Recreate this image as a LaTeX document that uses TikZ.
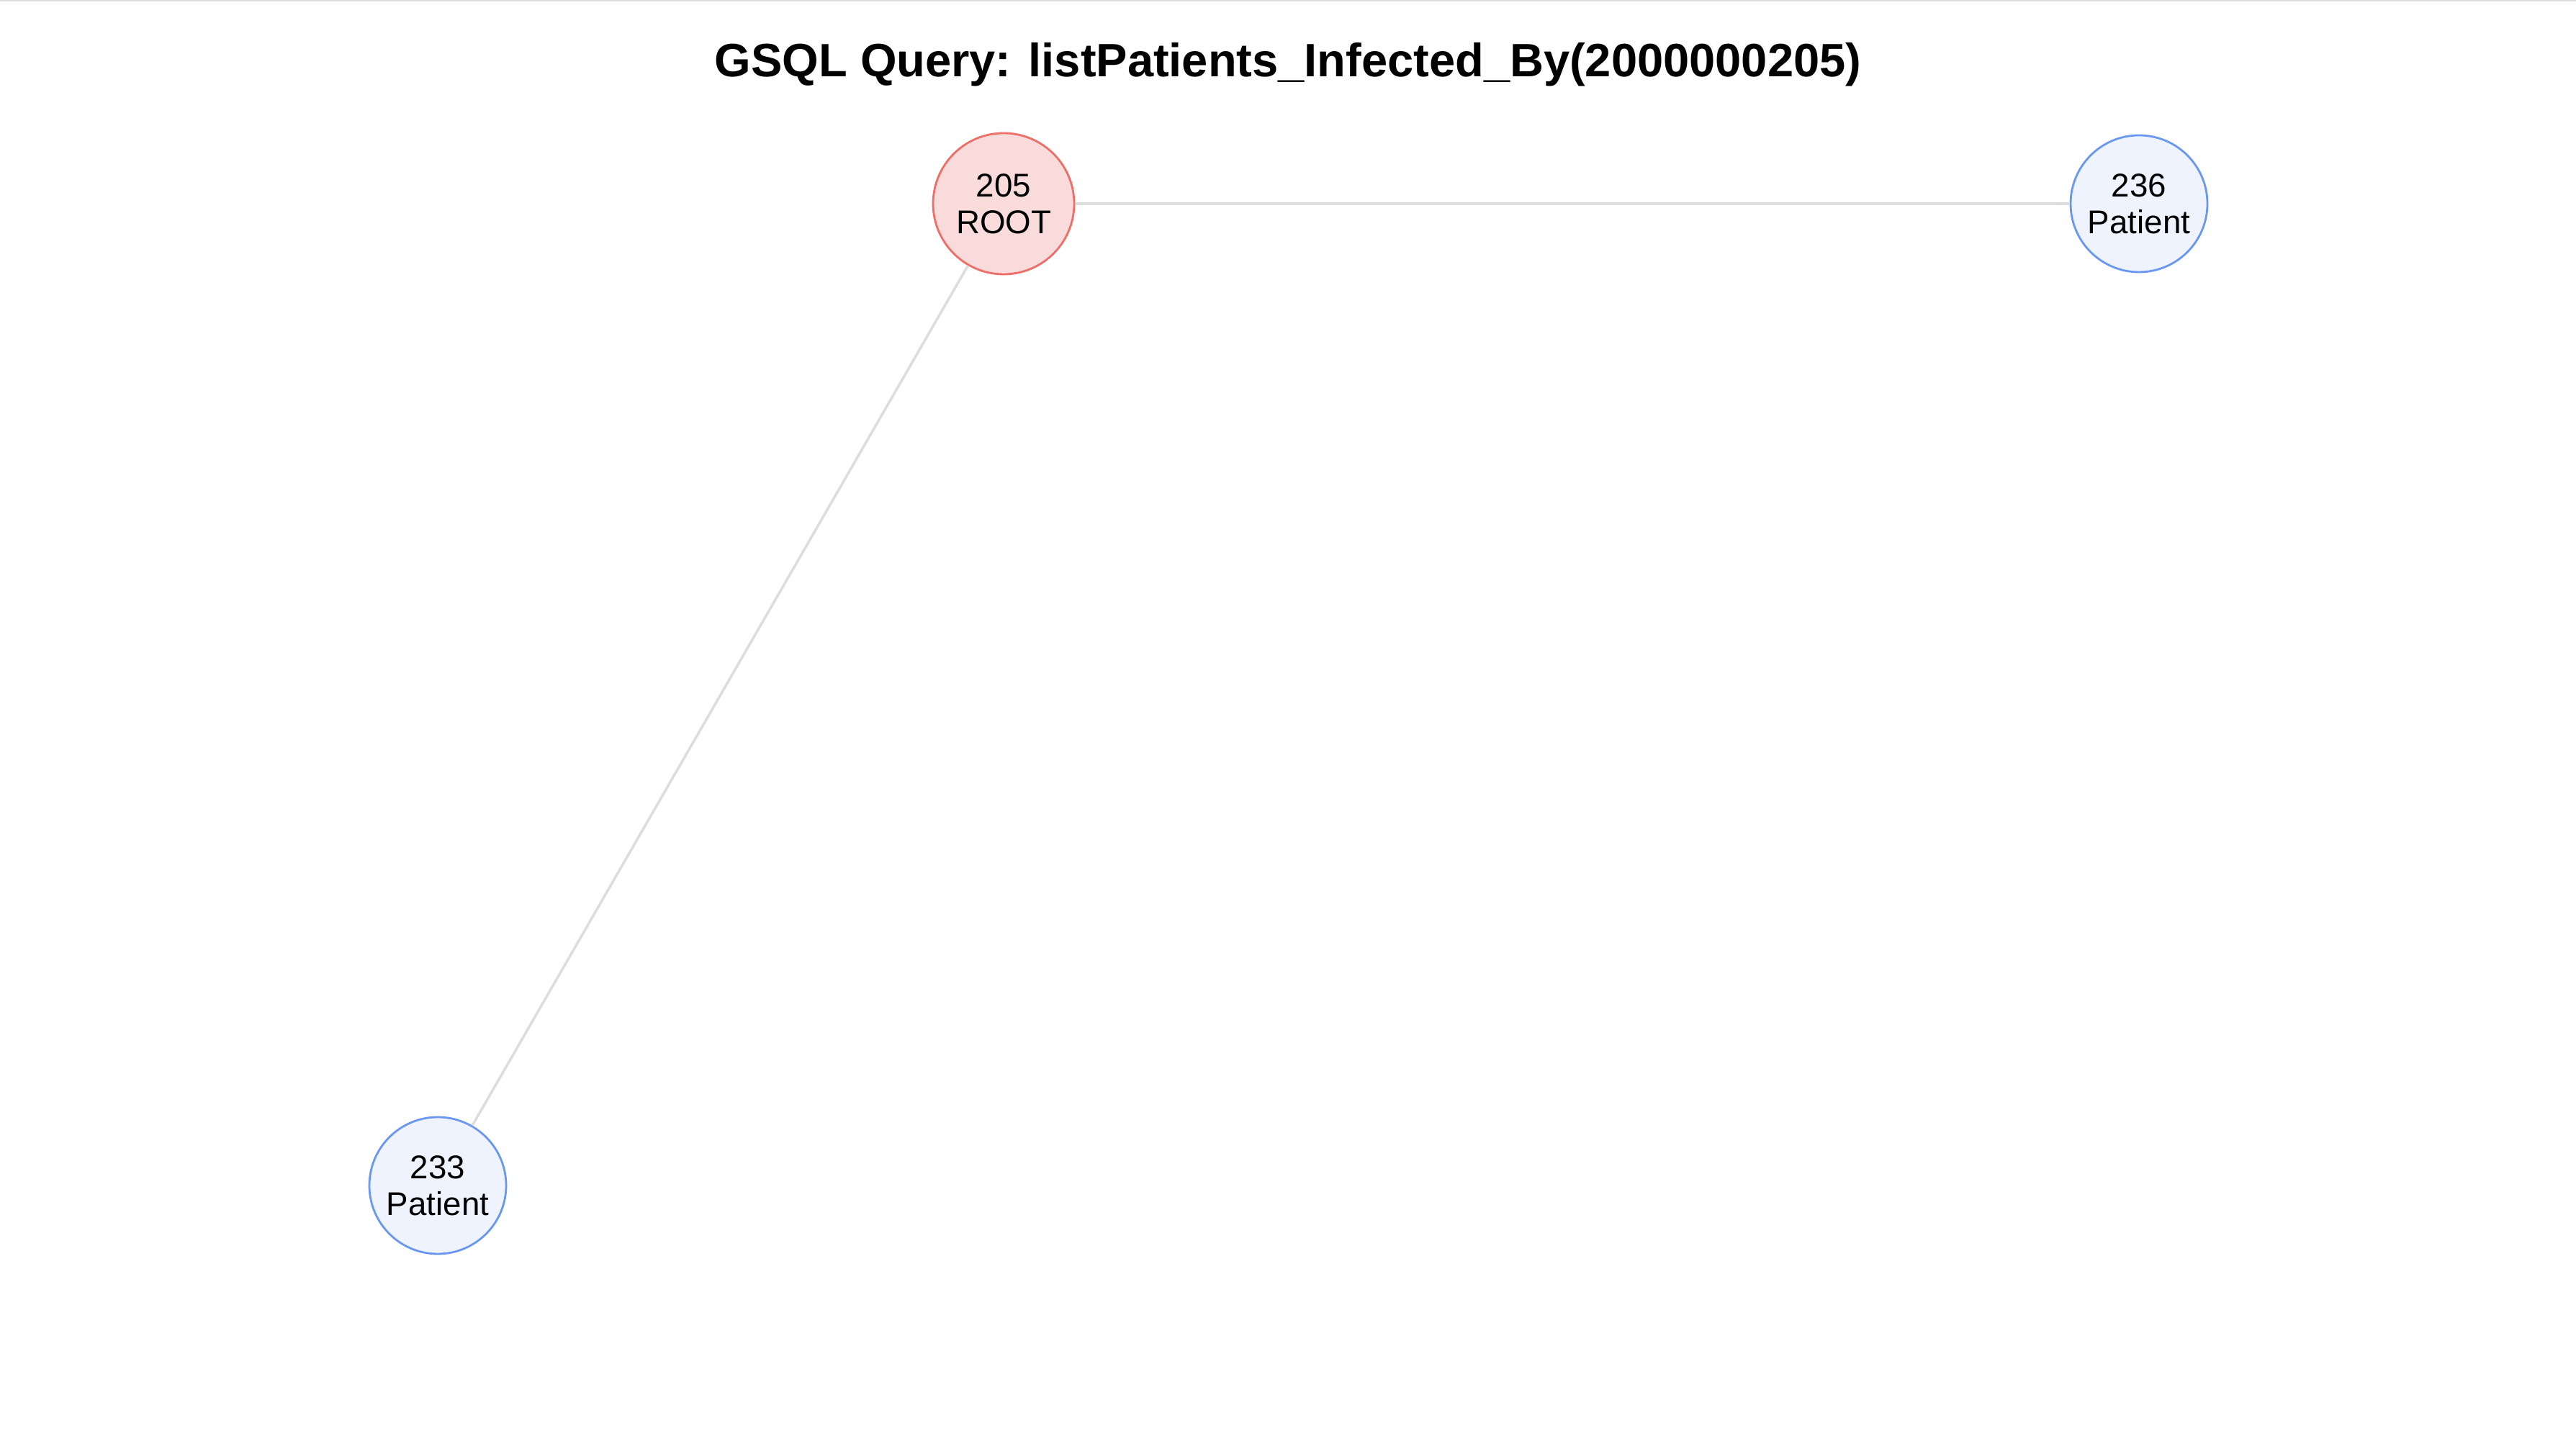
\documentclass[tikz,border=0pt]{standalone}
\usepackage{fontspec}
\setmainfont{Liberation Sans}
\definecolor{edgegray}{HTML}{DDDDDD}
\definecolor{rootline}{HTML}{EE6E68}
\definecolor{rootfill}{HTML}{F8DBDA}
\definecolor{patline}{HTML}{6A98F0}
\definecolor{patfill}{HTML}{EEF3FE}
\tikzset{
    vertex/.style={circle, inner sep=0pt, line width=0.8pt, align=center,
        font=\fontsize{13}{14.5}\selectfont},
    rootvertex/.style={vertex, draw=rootline, fill=rootfill, minimum size=1.96cm},
    patientvertex/.style={vertex, draw=patline, fill=patfill, minimum size=1.90cm},
    link/.style={draw=edgegray, line width=1pt}
}
\begin{document}
\begin{tikzpicture}
        \useasboundingbox (0, 0) rectangle (35.78, 20.20);
        \draw[edgegray, line width=0.6pt] (0, 20.19) -- (35.78, 20.19);

        \node (title) at (17.89, 19.30) { \fontsize{18.5}{22}\selectfont\bfseries GSQL Query: listPatients\_Infected\_By(2000000205) };

        \node[rootvertex] (v205) at (13.94, 17.37) { 205\\ROOT };
        \node[patientvertex] (v236) at (29.71, 17.37) { 236\\Patient };
        \node[patientvertex] (v233) at (6.08, 3.73) { 233\\Patient };

        \draw[link] (v205) -- (v236);
        \draw[link] (v205) -- (v233);
    \end{tikzpicture}
\end{document}
